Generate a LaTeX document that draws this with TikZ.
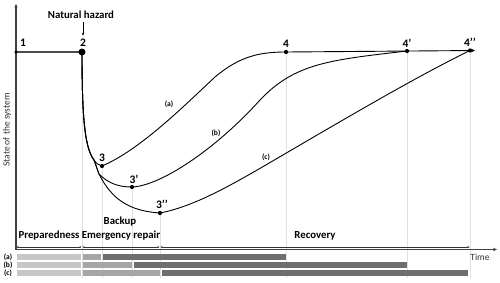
\documentclass[tikz,border=0pt]{standalone}
\usepackage{fontspec}
\setmainfont{Carlito}
\usetikzlibrary{arrows.meta}

\begin{document}
\begin{tikzpicture}[x=1pt,y=-1pt,
  dot/.style={circle,fill=black,inner sep=0pt,minimum size=4.2pt},
  numlbl/.style={font=\bfseries\fontsize{11.5}{13}\selectfont},
  phaselbl/.style={font=\bfseries\fontsize{10.8}{12}\selectfont},
  curvelbl/.style={font=\bfseries\fontsize{7.5}{9}\selectfont},
  guide/.style={black!12,line width=0.6pt},
  curve/.style={line width=0.9pt},
  phasespan/.style={line width=0.5pt,black!80,{Stealth[length=2pt,width=2pt]}-{Stealth[length=2pt,width=2pt]},shorten <=0.5pt,shorten >=0.5pt}]
\useasboundingbox (0,0) rectangle (500,282);

% points of the curves
\coordinate (o) at (16,249.5);
\coordinate (ytop) at (16,4);
\coordinate (xend) at (497,249.5);
\coordinate (p1) at (16,52);
\coordinate (p2) at (82,52);
\coordinate (p3) at (102,166);
\coordinate (p3b) at (132,187);
\coordinate (p3c) at (160,213);
\coordinate (p4) at (286,52);
\coordinate (p4b) at (407,51);
\coordinate (p4c) at (470,50.5);
\coordinate (ba) at (94,160);
\coordinate (bb) at (99,174);
\coordinate (gb) at (0,278);
\coordinate (rl) at (0,247);

% guides
\foreach \p in {p2,p3,p3b,p3c,p4,p4b,p4c}{
\draw[guide] (\p) -- (\p |- gb);
}

% bars
\foreach \y/\m/\e/\t in {257/101/286/a,265/132/407/b,273/160/468/c}{
\fill[black!22] (17,\y-2.6) rectangle (81,\y+2.6);
\fill[black!35] (83,\y-2.6) rectangle (\m,\y+2.6);
\fill[black!57] (\m+1.5,\y-2.6) rectangle (\e,\y+2.6);
\node[curvelbl] (bar\t) at (8,\y) {(\t)};
}

% axes
\draw[line width=1.2pt,black!75,-{Stealth[length=3.5pt,width=3pt]}] (o) -- (ytop);
\draw[line width=1.2pt,black!75,-{Stealth[length=4pt,width=3.5pt]}] (o) -- (xend);
\node[rotate=90,font=\fontsize{9.5}{11}\selectfont,black!80] (ylab) at (7,130) {State of the system};
\node[font=\fontsize{9.5}{11}\selectfont,black!80] (time) at (480,257) {Time};

% phases
\draw[phasespan] (p1 |- rl) -- (p2 |- rl);
\draw[phasespan] (p2 |- rl) -- (p3c |- rl);
\draw[phasespan] (p3c |- rl) -- (p4c |- rl);
\node[phaselbl] (prep) at (49,236) {Preparedness};
\node[phaselbl] (emer) at (121,236) {Emergency repair};
\node[phaselbl] (back) at (120,222) {Backup};
\node[phaselbl] (reco) at (315,236) {Recovery};

% curves
\draw[line width=1.3pt,black!70] (p1) -- (p2);
\draw[curve] (p2) .. controls (82,120) and (85,148) .. (ba) .. controls (97,164) .. (p3)
  .. controls (140,150) and (185,105) .. (215,77) .. controls (240,56) and (260,52) .. (p4);
\draw[curve] (p2) .. controls (82,120) and (85,148) .. (ba) .. controls (96,167) .. (bb)
  .. controls (108,183) and (118,187) .. (p3b) .. controls (160,186) and (215,150) .. (260,100)
  .. controls (295,63) and (330,60) .. (p4b);
\draw[curve] (p2) .. controls (82,120) and (85,148) .. (ba) .. controls (96,167) .. (bb)
  .. controls (112,200) and (130,211) .. (p3c) .. controls (200,205) and (240,180) .. (300,145)
  .. controls (360,110) and (420,75) .. (p4c);
\draw[curve,-{Stealth[length=4pt,width=3.5pt]}] (p4) -- ([xshift=5pt]p4c);

\node[curvelbl] (la) at (169,104) {(a)};
\node[curvelbl] (lb) at (216,133) {(b)};
\node[curvelbl] (lc) at (266,157) {(c)};

% dots and numbers
\node[dot,minimum size=3.5pt] (d1) at (p1) {};
\node[dot,minimum size=7pt] (d2) at (p2) {};
\foreach \p in {p3,p3b,p3c,p4,p4b,p4c}{
\node[dot] (d\p) at (\p) {};
}
\node[numlbl] (n1) at (23,43) {1};
\node[numlbl] (n2) at (83,43) {2};
\node[numlbl] (n3) at (102,158) {3};
\node[numlbl] (n3b) at (134,179) {3’};
\node[numlbl] (n3c) at (162,204) {3’’};
\node[numlbl] (n4) at (286,44) {4};
\node[numlbl] (n4b) at (407,43) {4’};
\node[numlbl] (n4c) at (470,42) {4’’};

\node[phaselbl] (haz) at (81,15) {Natural hazard};
\draw[line width=0.6pt,-{Stealth[length=3pt,width=2.5pt]}] (haz.south -| n2) -- (n2.north);
\end{tikzpicture}
\end{document}
